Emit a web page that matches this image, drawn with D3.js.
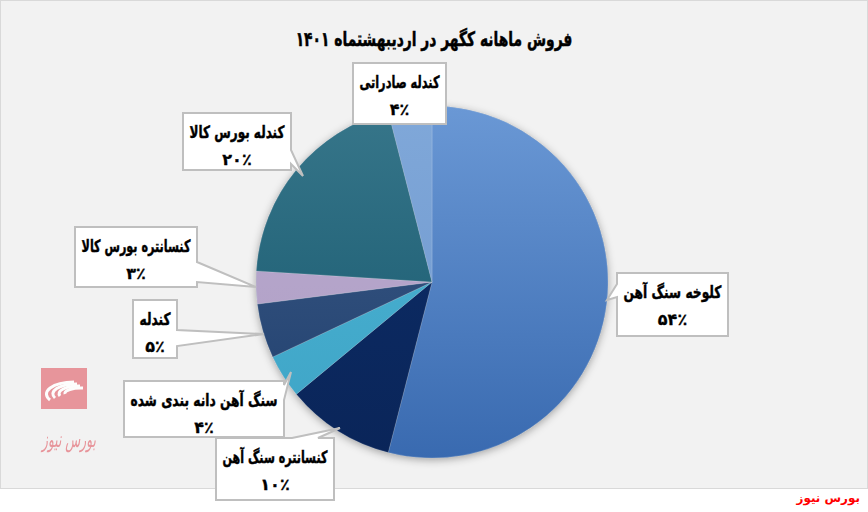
<!DOCTYPE html>
<html>
<head>
<meta charset="utf-8">
<script src="https://cdn.jsdelivr.net/npm/d3@7"></script>
<style>
html,body{margin:0;padding:0;background:#ffffff;}
svg{display:block;}
</style>
</head>
<body>
<svg id="chart" width="868" height="512"></svg>
<script>
// ---- data ----
const categories = ["کلوخه سنگ آهن", "کنسانتره سنگ آهن", "سنگ آهن دانه بندی شده", "کندله", "کنسانتره بورس کالا", "کندله بورس کالا", "کندله صادراتی"];
const values = [54, 10, 4, 5, 3, 20, 4];
const title = "فروش ماهانه کگهر در اردیبهشتماه ۱۴۰۱";
const sourceText = "بورس نیوز";

// ---- styles / layout ----
const colorsTop = ["#6a98d5", "#0d2e69", "#4cb4d4", "#3e5d88", "#b8a8cd", "#37768a", "#80a8d9"];
const colorsBot = ["#396ab0", "#0a2559", "#3ea4c6", "#1f3e6d", "#b0a0c6", "#14566c", "#6d96cd"];
// label callout boxes: [x, y, w, h, side, a, b, tipX, tipY]
const labelBoxes = [
  [617, 273, 111, 63, "left", 284, 297, 607, 300],
  [216, 438, 118, 62, "top", 292, 318, 340, 428],
  [124, 381, 160, 56, "right", 385, 400, 291, 372],
  [133, 300, 44, 58, "right", 330, 346, 264, 334],
  [75, 227, 122, 60, "right", 262, 282, 256, 287],
  [183, 113, 108, 57, "right", 150, 164, 303, 176],
  [353, 63, 93, 61, null]
];

const W = 868, H = 512;
const cx = 432, cy = 282, R = 176;
const svg = d3.select("#chart");
const defs = svg.append("defs");

function fitText(sel, maxW) {
  const n = sel.node();
  const len = n.getComputedTextLength();
  const x = +sel.attr("x"), y = +sel.attr("y");
  if (len > maxW) {
    const s = maxW / len;
    sel.attr("x", 0).attr("y", 0).attr("transform", `translate(${x},${y}) scale(${s},1)`);
  }
}

// background
svg.append("rect").attr("x", 0).attr("y", 0).attr("width", W).attr("height", H).attr("fill", "#ffffff");
svg.append("rect").attr("x", 0.5).attr("y", 0.5).attr("width", W - 1).attr("height", 488)
  .attr("fill", "#f2f2f2").attr("stroke", "#d9d9d9");

// title
const t = svg.append("text").attr("x", 434).attr("y", 46).attr("text-anchor", "middle")
  .attr("font-family", "DejaVu Sans").attr("font-weight", "bold").attr("font-size", 20)
  .attr("fill", "#000").attr("stroke", "#000").attr("stroke-width", 0.5)
  .attr("direction", "rtl").text(title);
fitText(t, 277);

// watermark logo
const logo = svg.append("g").attr("opacity", 0.85);
logo.append("rect").attr("x", 41).attr("y", 368).attr("width", 46).attr("height", 41).attr("fill", "#e6858c");
[0, 1, 2, 3].forEach(i => {
  const r = 22 - i * 4;
  logo.append("path")
    .attr("d", `M ${50 + i * 5} ${400 - i * 2} A ${r + 6} ${r * 0.55} 0 0 1 ${74 + i * 3} ${382 + i * 2}`)
    .attr("fill", "none").attr("stroke", "#ffffff").attr("stroke-width", 3);
});
const lt = logo.append("text").attr("x", 69).attr("y", 447).attr("text-anchor", "middle")
  .attr("font-family", "DejaVu Sans").attr("font-style", "italic").attr("font-size", 22)
  .attr("fill", "#e6858c").text(sourceText);
fitText(lt, 54);

// footer source
svg.append("text").attr("x", 860).attr("y", 502).attr("text-anchor", "end")
  .attr("font-family", "DejaVu Sans").attr("font-weight", "bold").attr("font-size", 12)
  .attr("fill", "#ff0000").text(sourceText);

// gradients
colorsTop.forEach((c, i) => {
  const g = defs.append("linearGradient").attr("id", "g" + i)
    .attr("gradientUnits", "userSpaceOnUse")
    .attr("x1", 0).attr("y1", -R).attr("x2", 0).attr("y2", R);
  g.append("stop").attr("offset", "0%").attr("stop-color", c);
  g.append("stop").attr("offset", "100%").attr("stop-color", colorsBot[i]);
});
const f = defs.append("filter").attr("id", "shadow").attr("x", "-20%").attr("y", "-20%").attr("width", "140%").attr("height", "140%");
f.append("feDropShadow").attr("dx", 0).attr("dy", 2).attr("stdDeviation", 4)
  .attr("flood-color", "#000").attr("flood-opacity", 0.35);

// pie
const pie = d3.pie().sort(null).value(d => d)(values);
const arc = d3.arc().innerRadius(0).outerRadius(R);
const pg = svg.append("g").attr("transform", `translate(${cx},${cy})`);
pg.append("circle").attr("r", R).attr("fill", "#8899aa").attr("filter", "url(#shadow)");
pg.selectAll("path.slice").data(pie).enter().append("path").attr("class", "slice")
  .attr("d", arc)
  .attr("fill", (d, i) => `url(#g${i})`)
  .attr("stroke", "rgba(255,255,255,0.25)").attr("stroke-width", 0.6);

// callout labels
function toFa(n) { return String(n).replace(/\d/g, ch => "۰۱۲۳۴۵۶۷۸۹"[+ch]); }
function callout(b) {
  const [x, y, w, h, side, a, bb, tx, ty] = b;
  const p = d3.path();
  p.moveTo(x, y);
  if (side === "top") { p.lineTo(a, y); p.lineTo(tx, ty); p.lineTo(bb, y); }
  p.lineTo(x + w, y);
  if (side === "right") { p.lineTo(x + w, a); p.lineTo(tx, ty); p.lineTo(x + w, bb); }
  p.lineTo(x + w, y + h);
  if (side === "bottom") { p.lineTo(bb, y + h); p.lineTo(tx, ty); p.lineTo(a, y + h); }
  p.lineTo(x, y + h);
  if (side === "left") { p.lineTo(x, bb); p.lineTo(tx, ty); p.lineTo(x, a); }
  p.closePath();
  return p.toString();
}
const lg = svg.append("g");
categories.forEach((name, i) => {
  const b = labelBoxes[i];
  const g = lg.append("g");
  g.append("path").attr("d", callout(b)).attr("fill", "#ffffff")
    .attr("stroke", "#bfbfbf").attr("stroke-width", 2).attr("stroke-linejoin", "miter");
  const mx = b[0] + b[2] / 2;
  const nt = g.append("text").attr("x", mx).attr("y", b[1] + 25).attr("text-anchor", "middle")
    .attr("font-family", "DejaVu Sans").attr("font-weight", "bold").attr("font-size", 17)
    .attr("fill", "#000").attr("stroke", "#000").attr("stroke-width", 0.45)
    .attr("direction", "rtl").text(name);
  fitText(nt, b[2] - 13);
  g.append("text").attr("x", mx).attr("y", b[1] + 52).attr("text-anchor", "middle")
    .attr("font-family", "DejaVu Sans").attr("font-weight", "bold").attr("font-size", 16)
    .attr("fill", "#000").attr("stroke", "#000").attr("stroke-width", 0.3)
    .text(toFa(values[i]) + "٪");
});
</script>
</body>
</html>
